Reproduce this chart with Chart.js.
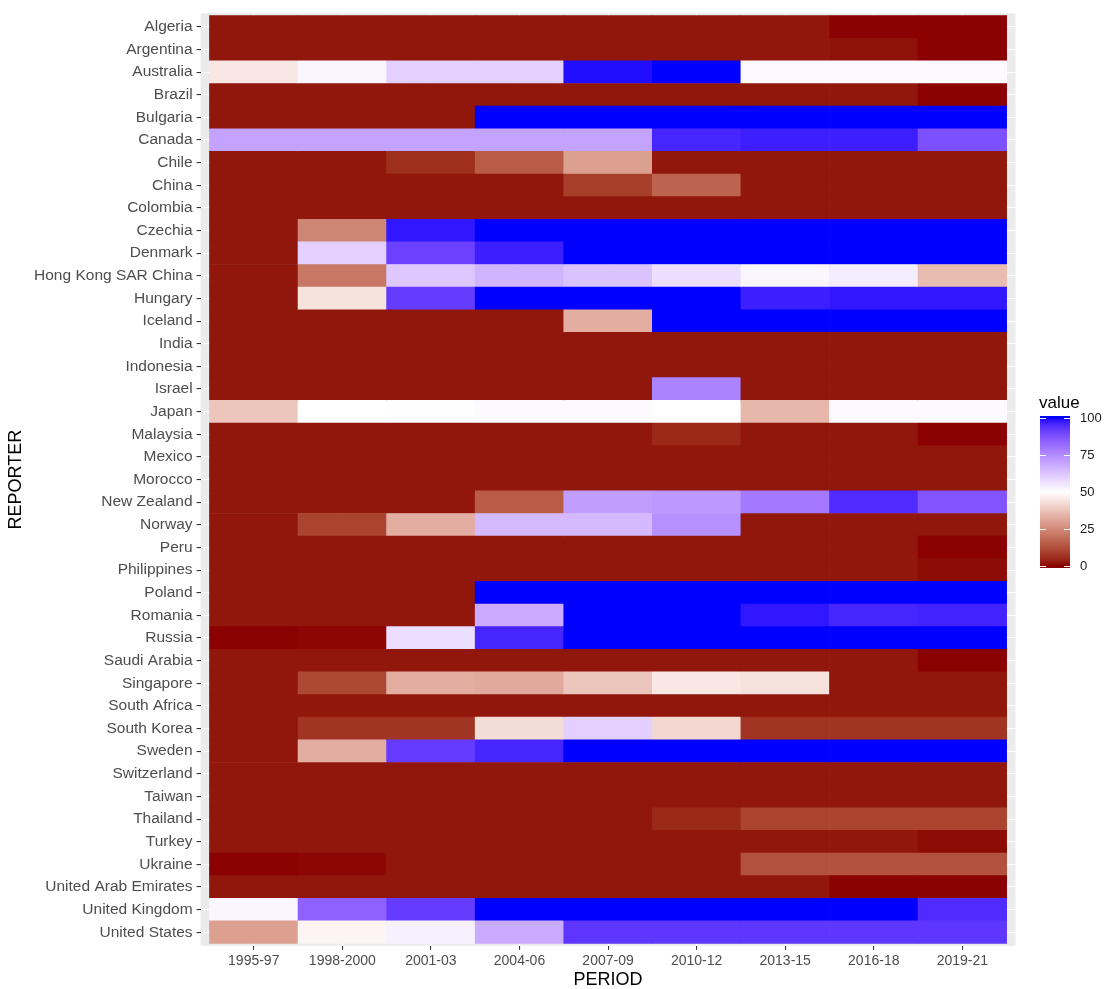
<!DOCTYPE html>
<html>
<head>
<meta charset="utf-8">
<title>Reporter by period heatmap</title>
<script src="https://cdn.jsdelivr.net/npm/chart.js@4.4.1/dist/chart.umd.min.js"></script>
<style>
  body { margin: 0; background: #ffffff; }
  #wrap { width: 1110px; height: 989px; }
</style>
</head>
<body>
<div id="wrap"><canvas id="heatChart" width="1110" height="989"></canvas></div>
<script>
var periods = ['1995-97', '1998-2000', '2001-03', '2004-06', '2007-09', '2010-12', '2013-15', '2016-18', '2019-21'];

var reporters = ['Algeria', 'Argentina', 'Australia', 'Brazil', 'Bulgaria', 'Canada', 'Chile', 'China',
    'Colombia', 'Czechia', 'Denmark', 'Hong Kong SAR China', 'Hungary', 'Iceland', 'India', 'Indonesia',
    'Israel', 'Japan', 'Malaysia', 'Mexico', 'Morocco', 'New Zealand', 'Norway', 'Peru', 'Philippines',
    'Poland', 'Romania', 'Russia', 'Saudi Arabia', 'Singapore', 'South Africa', 'South Korea', 'Sweden',
    'Switzerland', 'Taiwan', 'Thailand', 'Turkey', 'Ukraine', 'United Arab Emirates', 'United Kingdom',
    'United States'];

// one array per period, same order as reporters
var v1995_97 = [2, 2, 45, 2, 2, 70, 2, 2, 2, 2, 2, 2, 2, 2, 2, 2, 2, 38, 2, 2, 2, 2, 2, 2, 2, 2, 2, 0, 2, 2, 2, 2, 2, 2, 2, 2, 2, 0, 2, 52, 30];
var v1998_2000 = [2, 2, 52, 2, 2, 70, 2, 2, 2, 24, 60, 21, 44, 2, 2, 2, 2, 50, 2, 2, 2, 2, 10, 2, 2, 2, 2, 0.5, 2, 11, 2, 7, 33, 2, 2, 2, 2, 0.5, 2, 84, 48];
var v2001_03 = [2, 2, 60, 2, 2, 70, 6, 2, 2, 98, 91, 62, 92, 2, 2, 2, 2, 50.5, 2, 2, 2, 2, 33, 2, 2, 2, 2, 57, 2, 33, 2, 7, 92, 2, 2, 2, 2, 2, 2, 92, 53];
var v2004_06 = [2, 2, 60, 2, 100, 70, 15, 2, 2, 100, 97, 66, 100, 2, 2, 2, 2, 51, 2, 2, 2, 15, 65, 2, 2, 100, 68, 96, 2, 32, 2, 43, 96, 2, 2, 2, 2, 2, 2, 100, 68];
var v2007_09 = [2, 2, 99, 2, 100, 70, 30, 9, 2, 100, 100, 63, 100, 33, 2, 2, 2, 51, 2, 2, 2, 71, 65, 2, 2, 100, 100, 100, 2, 38, 2, 60, 100, 2, 2, 2, 2, 2, 2, 100, 93];
var v2010_12 = [2, 2, 100, 2, 100, 96, 2, 17, 2, 100, 100, 57, 100, 100, 2, 2, 77, 50, 5, 2, 2, 72, 74, 2, 2, 100, 100, 100, 2, 45, 2, 42, 100, 2, 2, 5, 2, 2, 2, 100, 93];
var v2013_15 = [2, 2, 51, 2, 100, 97, 2, 2, 2, 100, 100, 52, 97, 100, 2, 2, 2, 35, 2, 2, 2, 79, 2, 2, 2, 100, 98, 100, 2, 44, 2, 7, 100, 2, 2, 10, 2, 13, 2, 100, 93];
var v2016_18 = [0, 1.5, 51, 2, 100, 97, 2, 2, 2, 100, 100, 54, 98, 100, 2, 2, 2, 51, 2, 2, 2, 95, 2, 2, 2, 100, 96, 100, 2, 2, 2, 7, 100, 2, 2, 10, 2, 13, 0, 100, 93];
var v2019_21 = [0, 0, 51, 0, 100, 88, 2, 2, 2, 100, 100, 36, 98, 100, 2, 2, 2, 51, 0, 2, 2, 87, 2, 0, 1, 100, 96.5, 100, 0, 2, 2, 7, 100, 2, 2, 10, 1, 13, 0, 95, 93];

var valuesByPeriod = [v1995_97, v1998_2000, v2001_03, v2004_06, v2007_09, v2010_12, v2013_15, v2016_18, v2019_21];
var legendBreaks = [0, 25, 50, 75, 100];

var FONT = '"Liberation Sans", Arial, sans-serif';

// --- diverging fill (darkred - white - blue, midpoint 50), interpolated in Lab like ggplot
function toLinear(c) {
    c = c / 255;
    return c <= 0.04045 ? c / 12.92 : Math.pow((c + 0.055) / 1.055, 2.4);
}
function fromLinear(c) {
    c = c <= 0.0031308 ? 12.92 * c : 1.055 * Math.pow(c, 1 / 2.4) - 0.055;
    return Math.round(Math.max(0, Math.min(1, c)) * 255);
}
function rgbToLab(rgb) {
    var r = toLinear(rgb[0]), g = toLinear(rgb[1]), b = toLinear(rgb[2]);
    var x = (0.4124 * r + 0.3576 * g + 0.1805 * b) / 0.95047;
    var y = 0.2126 * r + 0.7152 * g + 0.0722 * b;
    var z = (0.0193 * r + 0.1192 * g + 0.9505 * b) / 1.08883;
    function f(t) { return t > 0.008856 ? Math.cbrt(t) : 7.787 * t + 16 / 116; }
    var fx = f(x), fy = f(y), fz = f(z);
    return [116 * fy - 16, 500 * (fx - fy), 200 * (fy - fz)];
}
function labToRgb(lab) {
    var fy = (lab[0] + 16) / 116, fx = fy + lab[1] / 500, fz = fy - lab[2] / 200;
    function finv(t) { var t3 = t * t * t; return t3 > 0.008856 ? t3 : (t - 16 / 116) / 7.787; }
    var x = finv(fx) * 0.95047, y = finv(fy), z = finv(fz) * 1.08883;
    var r = 3.2406 * x - 1.5372 * y - 0.4986 * z;
    var g = -0.9689 * x + 1.8758 * y + 0.0415 * z;
    var b = 0.0557 * x - 0.2040 * y + 1.0570 * z;
    return 'rgb(' + fromLinear(r) + ',' + fromLinear(g) + ',' + fromLinear(b) + ')';
}

var labLow = rgbToLab([139, 0, 0]);
var labMid = rgbToLab([255, 255, 255]);
var labHigh = rgbToLab([0, 0, 255]);

function fillColour(v) {
    var a, b, t;
    if (v <= 50) { a = labLow; b = labMid; t = v / 50; }
    else { a = labMid; b = labHigh; t = (v - 50) / 50; }
    t = Math.max(0, Math.min(1, t));
    return labToRgb([a[0] + (b[0] - a[0]) * t, a[1] + (b[1] - a[1]) * t, a[2] + (b[2] - a[2]) * t]);
}

// --- tiles as floating bars
var cells = [];
periods.forEach(function (p, c) {
    valuesByPeriod[c].forEach(function (v, r) {
        cells.push({ x: [c - 0.5, c + 0.5], y: r, value: v });
    });
});

var panelPlugin = {
    id: 'panel',
    beforeDraw: function (chart) {
        var a = chart.chartArea, ctx = chart.ctx;
        ctx.save();
        ctx.fillStyle = '#EBEBEB';
        ctx.fillRect(a.left, a.top, a.right - a.left, a.bottom - a.top);
        ctx.restore();
    },
    afterDraw: function (chart) {
        // colour bar legend
        var ctx = chart.ctx;
        var barX = 1040, barW = 30, barTop = 416, barBottom = 568;
        var yTop = 418, yBottom = 566; // positions of 100 and 0
        function yFor(v) { return yBottom - (yBottom - yTop) * v / 100; }

        ctx.save();
        ctx.fillStyle = '#000000';
        ctx.font = '17px ' + FONT;
        ctx.textAlign = 'left';
        ctx.textBaseline = 'middle';
        ctx.fillText('value', 1039, 403);

        for (var y = barTop; y < barBottom; y++) {
            var v = (yBottom - (y + 0.5)) / (yBottom - yTop) * 100;
            ctx.fillStyle = fillColour(Math.max(0, Math.min(100, v)));
            ctx.fillRect(barX, y, barW, 1);
        }

        ctx.strokeStyle = '#FFFFFF';
        ctx.lineWidth = 1;
        ctx.font = '13px ' + FONT;
        legendBreaks.forEach(function (b) {
            var yy = Math.round(yFor(b)) + 0.5;
            ctx.beginPath();
            ctx.moveTo(barX, yy); ctx.lineTo(barX + barW / 5, yy);
            ctx.moveTo(barX + barW - barW / 5, yy); ctx.lineTo(barX + barW, yy);
            ctx.stroke();
            ctx.fillStyle = '#1A1A1A';
            ctx.fillText(String(b), 1080, yFor(b));
        });
        ctx.restore();
    }
};

var chartContext = document.getElementById('heatChart').getContext('2d');

new Chart(chartContext, {
    type: 'bar',
    data: {
        datasets: [{
            data: cells,
            backgroundColor: cells.map(function (c) { return fillColour(c.value); }),
            borderWidth: 0,
            barPercentage: 1,
            categoryPercentage: 1
        }]
    },
    options: {
        indexAxis: 'y',
        responsive: false,
        animation: false,
        devicePixelRatio: 1,
        layout: { padding: { top: 11.7, right: 94.5, bottom: 0, left: 0 } },
        plugins: {
            legend: { display: false },
            tooltip: { enabled: false }
        },
        scales: {
            x: {
                type: 'linear',
                position: 'bottom',
                min: -0.6,
                max: 8.6,
                bounds: 'data',
                offset: false,
                afterBuildTicks: function (axis) {
                    axis.ticks = periods.map(function (p, i) { return { value: i }; });
                },
                afterFit: function (axis) { axis.height = 43.2; },
                ticks: {
                    autoSkip: false,
                    maxRotation: 0,
                    padding: 3,
                    color: '#4D4D4D',
                    font: { family: FONT, size: 14 },
                    callback: function (value) { return periods[value]; }
                },
                grid: { offset: false, color: '#FFFFFF', lineWidth: 1.1, tickColor: '#333333', tickLength: 4, tickWidth: 1.1 },
                border: { display: false },
                title: {
                    display: true,
                    text: 'PERIOD',
                    color: '#000000',
                    font: { family: FONT, size: 18, lineHeight: 1 },
                    padding: { top: 0, bottom: 0 }
                }
            },
            y: {
                type: 'linear',
                reverse: true,
                min: -0.6,
                max: 40.6,
                bounds: 'data',
                offset: false,
                afterBuildTicks: function (axis) {
                    axis.ticks = reporters.map(function (r, i) { return { value: i }; });
                },
                afterFit: function (axis) { axis.width = 200.6; },
                ticks: {
                    autoSkip: false,
                    padding: 4,
                    color: '#4D4D4D',
                    font: { family: FONT, size: 15.5 },
                    callback: function (value) { return reporters[value]; }
                },
                grid: { offset: false, color: '#FFFFFF', lineWidth: 1.1, tickColor: '#333333', tickLength: 4, tickWidth: 1.1 },
                border: { display: false },
                title: {
                    display: true,
                    text: 'REPORTER',
                    color: '#000000',
                    font: { family: FONT, size: 18, lineHeight: 1 },
                    padding: { top: 7, bottom: 0 }
                }
            }
        }
    },
    plugins: [panelPlugin]
});
</script>
</body>
</html>
